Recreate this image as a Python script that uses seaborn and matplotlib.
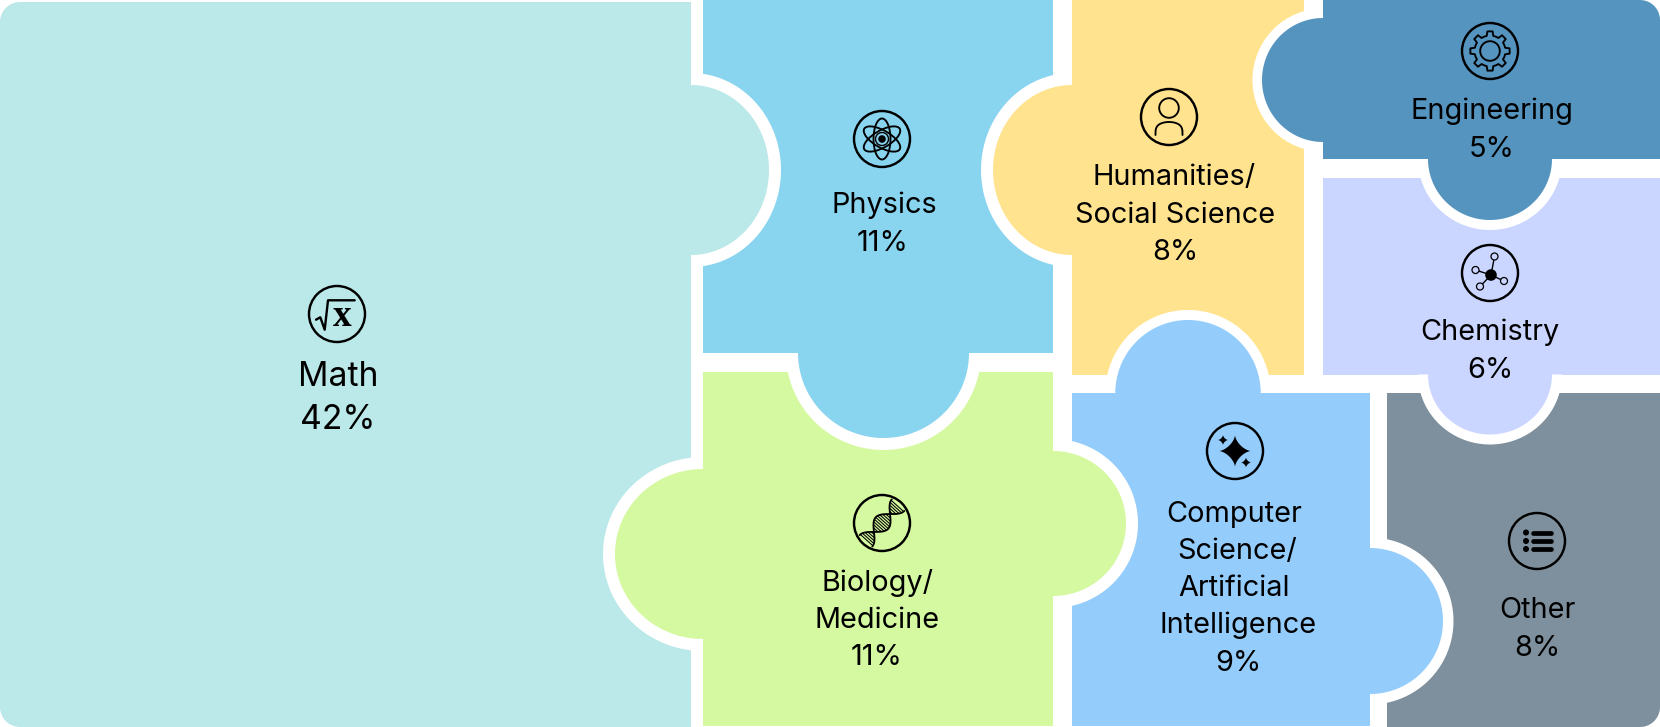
import numpy as np
import seaborn as sns
import matplotlib
matplotlib.use("Agg")
import matplotlib.pyplot as plt
from matplotlib.patches import Polygon, Circle, Ellipse

# ---------- data ----------
categories = ["Math", "Physics", "Biology/\nMedicine", "Humanities/\nSocial Science",
              "Computer\nScience/\nArtificial\nIntelligence", "Engineering", "Chemistry", "Other"]
shares = [42, 11, 11, 8, 9, 5, 6, 8]
colors = ["#BBE8E8", "#89D4EF", "#D5F9A0", "#FFE38F", "#94CCFC", "#5594BF", "#CAD6FF", "#7E909D"]
icons = ["math", "atom", "dna", "person", "sparkle", "gear", "molecule", "list"]

# ---------- layout (pixels of the 1660x727 canvas) ----------
# body: x0, x1, y0, y1, corner radii (tl, tr, br, bl)
bodies = [
    (0, 691, 2, 727, (20, 0, 0, 20)),
    (703, 1053, 0, 353, (0, 0, 0, 0)),
    (703, 1053, 372, 726, (0, 0, 0, 0)),
    (1072, 1304, 0, 374.5, (0, 0, 0, 0)),
    (1072, 1370, 393, 726, (0, 0, 0, 0)),
    (1323, 1660, 0, 159, (0, 20, 0, 0)),
    (1323, 1660, 178, 374.5, (0, 0, 0, 0)),
    (1387, 1660, 393, 727, (0, 0, 20, 0)),
]
# knob: body index, side, base position, centre along the side, depth, half-width, white halo
knobs = [
    (0, "R", 691, 170, 78, 85, 12),
    (1, "B", 353, 883.5, 85, 85.5, 12),
    (2, "L", 703, 554, 88, 85, 12),
    (2, "R", 1053, 523.5, 73, 72.5, 12),
    (3, "L", 1072, 170, 79, 85, 12),
    (4, "T", 393, 1188, 73, 72.7, 10),
    (4, "R", 1370, 621, 73, 73, 10.5),
    (5, "L", 1323, 80, 61, 62, 9.5),
    (5, "B", 159, 1490, 61, 62, 10),
    (6, "B", 374.5, 1490, 60, 62, 10),
]
icon_xy = [(337, 314), (882, 139), (882, 523), (1169, 117), (1235, 451), (1490, 51), (1490, 273), (1537, 541)]
text_lines_xy = [
    [(338, 386), (338, 429)],
    [(884, 213), (883, 251)],
    [(877, 591), (877, 628), (877, 665)],
    [(1174, 185), (1175, 223), (1175, 260)],
    [(1234, 522), (1237, 559), (1234, 596), (1238, 633), (1238, 671)],
    [(1492, 119), (1492, 157)],
    [(1490, 340), (1490, 378)],
    [(1537, 618), (1537, 656)],
]
FS_BIG, FS = 24.3, 20.8

sns.set_theme(style="white")
plt.rcParams["font.family"] = ["Inter", "DejaVu Sans"]

fig = plt.figure(figsize=(16.6, 7.27), dpi=100, facecolor="white")
ax = fig.add_axes([0, 0, 1, 1])
ax.set_xlim(0, 1660)
ax.set_ylim(727, 0)
ax.set_aspect("equal")
sns.despine(ax=ax, left=True, bottom=True)
ax.set_xticks([])
ax.set_yticks([])


def rounded_rect(x0, x1, y0, y1, radii):
    tl, tr, br, bl = radii
    pts = []
    def corner(cx, cy, r, a0):
        if r == 0:
            pts.append((cx, cy))
        else:
            for a in np.linspace(a0, a0 + np.pi / 2, 14):
                pts.append((cx + r * np.cos(a), cy + r * np.sin(a)))
    corner(x0 + tl, y0 + tl, tl, np.pi)
    corner(x1 - tr, y0 + tr, tr, 1.5 * np.pi)
    corner(x1 - br, y1 - br, br, 0)
    corner(x0 + bl, y1 - bl, bl, 0.5 * np.pi)
    return np.array(pts)


def half_ellipse(side, base, centre, depth, half, inset=0.0):
    t = np.linspace(0, np.pi, 90)
    u = centre - half * np.cos(t)
    v = depth * np.sin(t)
    sign = {"R": 1, "L": -1, "B": 1, "T": -1}[side]
    v = base + sign * v
    u = np.r_[u[0], u, u[-1]]
    v = np.r_[base - sign * inset, v, base - sign * inset]
    return np.c_[v, u] if side in "RL" else np.c_[u, v]


for (x0, x1, y0, y1, r), c in zip(bodies, colors):
    ax.add_patch(Polygon(rounded_rect(x0, x1, y0, y1, r), closed=True, fc=c, ec="none", zorder=1))

for idx, side, base, centre, depth, half, halo in knobs:
    ax.add_patch(Polygon(half_ellipse(side, base, centre, depth + halo, half + halo), closed=True,
                         fc="white", ec="none", zorder=2))
for idx, side, base, centre, depth, half, halo in knobs:
    ax.add_patch(Polygon(half_ellipse(side, base, centre, depth, half, inset=1.5), closed=True,
                         fc=colors[idx], ec="none", zorder=3))

K = "black"
LW = 1.75
TH = 1.35


def line(xs, ys, lw=TH, **kw):
    ax.plot(xs, ys, color=K, lw=lw, zorder=5, solid_capstyle=kw.pop("cap", "round"),
            solid_joinstyle="round", **kw)


def ring(x, y, r, lw=TH):
    ax.add_patch(Circle((x, y), r, fc="none", ec=K, lw=lw, zorder=5))


def dot(x, y, r):
    ax.add_patch(Circle((x, y), r, fc=K, ec="none", zorder=5))


def star(x, y, s, p=3.0):
    t = np.linspace(0, 2 * np.pi, 160)
    ax.add_patch(Polygon(np.c_[x + s * np.sign(np.cos(t)) * np.abs(np.cos(t)) ** p,
                               y + s * np.sign(np.sin(t)) * np.abs(np.sin(t)) ** p],
                         closed=True, fc=K, ec="none", zorder=5))


def draw_icon(name, x, y):
    ring(x, y, 28, LW)
    if name == "math":
        line(np.array([-21, -16.7, -12.3, -9, 17.7]) + x, np.array([5.7, 3.3, 15.7, -13.7, -13.7]) + y, lw=1.7)
        ax.text(x + 5.3, y + 12, "x", family="Liberation Serif", fontsize=27, fontweight="bold",
                ha="center", va="baseline", color=K, zorder=5)
    elif name == "atom":
        for ang in (90, 30, -30):
            ax.add_patch(Ellipse((x, y), 41, 17, angle=ang, fc="none", ec=K, lw=TH, zorder=5))
        ring(x, y, 6.5, 1.0)
        dot(x, y, 3.8)
    elif name == "person":
        ring(x, y - 9, 9.8)
        t = np.linspace(0, np.pi, 40)
        line(x - 13.5 * np.cos(t), y + 18 - 13 * np.sin(t) ** 0.55, lw=TH)
    elif name == "gear":
        teeth = 8
        pts = []
        for k in range(teeth):
            a = 2 * np.pi * k / teeth - np.pi / 2
            w = 2 * np.pi / teeth
            for da, rad in ((-0.5, 15.5), (-0.27, 15.5), (-0.17, 19.8), (0.17, 19.8), (0.27, 15.5), (0.5, 15.5)):
                pts.append((x + rad * np.cos(a + da * w), y + rad * np.sin(a + da * w)))
        ax.add_patch(Polygon(pts, closed=True, fc="none", ec=K, lw=TH, joinstyle="round", zorder=5))
        ring(x, y, 9.8)
    elif name == "molecule":
        cx, cy = x + 1, y + 2
        for dx, dy in ((3.5, -18.5), (13, 6), (-15.5, -5), (-11, 11.5)):
            line([cx, cx + dx * 0.8], [cy, cy + dy * 0.8], lw=1.0)
            ax.add_patch(Circle((cx + dx, cy + dy), 3.5, fc=colors[6], ec=K, lw=0.9, zorder=6))
        dot(cx, cy, 5.8)
    elif name == "sparkle":
        star(x, y, 15.8)
        star(x - 12, y - 11, 5)
        star(x + 11, y + 11.5, 5)
    elif name == "list":
        for dy in (-8.5, 0, 8):
            dot(x - 11, y + dy, 3)
            line([x - 4.5, x + 13.5], [y + dy, y + dy], lw=3.4)
    elif name == "dna":
        a = np.radians(-48)
        s = np.linspace(-24, 24, 90)
        shape = lambda q: 8.5 * np.cos(q * np.pi / 24)
        for sign in (1, -1):
            w = sign * shape(s)
            line(x + s * np.cos(a) - w * np.sin(a), y + s * np.sin(a) + w * np.cos(a), lw=1.3)
        for q in np.arange(-23, 23.5, 2.3):
            if abs(abs(q) - 12) < 1.6:
                continue
            w = shape(q)
            line([x + q * np.cos(a) - w * np.sin(a), x + q * np.cos(a) + w * np.sin(a)],
                 [y + q * np.sin(a) + w * np.cos(a), y + q * np.sin(a) - w * np.cos(a)], lw=0.75)


for cat, share, ic, ixy, txy in zip(categories, shares, icons, icon_xy, text_lines_xy):
    draw_icon(ic, *ixy)
    lines = cat.split("\n") + [f"{share}%"]
    fs = FS_BIG if cat == "Math" else FS
    for s, (tx, ty) in zip(lines, txy):
        ax.text(tx, ty, s, ha="center", va="baseline", fontsize=fs, color="black", zorder=6)

fig.savefig("out.png", dpi=100, facecolor="white")
